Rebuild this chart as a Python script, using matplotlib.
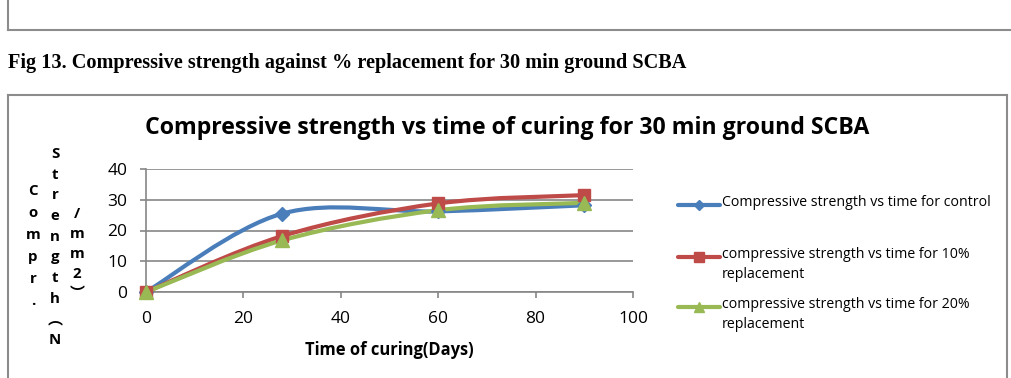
import matplotlib
matplotlib.use("Agg")
import matplotlib.pyplot as plt
import numpy as np
from matplotlib.path import Path
from matplotlib.patches import PathPatch
from matplotlib.lines import Line2D

# ---- data ----
days = [0, 28, 60, 90]
control = [0, 25.5, 26.2, 28.2]
rep10 = [0, 18.2, 28.8, 31.5]
rep20 = [0, 16.8, 26.6, 29.0]
series_labels = ["Compressive strength vs time for control",
                 "compressive strength vs time for 10%\nreplacement",
                 "compressive strength vs time for 20%\nreplacement"]
xticks = [0, 20, 40, 60, 80, 100]
yticks = [0, 10, 20, 30, 40]

W, H = 1012, 378
fig = plt.figure(figsize=(W / 100, H / 100), dpi=100)
fig.patch.set_facecolor("white")

def fx(px):
    return px / W

def fy(py):
    return 1 - py / H

BOX = "#8c8c8c"
# previous figure's box (clipped)
fig.add_artist(Line2D([fx(8), fx(8)], [fy(0), fy(30)], color=BOX, lw=1.5))
fig.add_artist(Line2D([fx(8), fx(1012)], [fy(30), fy(30)], color=BOX, lw=1.5))
# chart box
fig.add_artist(Line2D([fx(8), fx(8)], [fy(95), fy(378)], color=BOX, lw=1.5))
fig.add_artist(Line2D([fx(8), fx(1007)], [fy(95), fy(95)], color=BOX, lw=1.5))
fig.add_artist(Line2D([fx(1007), fx(1007)], [fy(95), fy(378)], color=BOX, lw=1.5))

# caption
fig.text(fx(8), fy(63), "Fig 13. Compressive strength against % replacement for 30 min ground SCBA",
         family="Liberation Serif", weight="bold", fontsize=14.6, ha="left", va="center")

# title
fig.text(fx(507), fy(128), "Compressive strength vs time of curing for 30 min ground SCBA",
         family="Open Sans", weight="bold", fontsize=16.7, ha="center", va="center")

ax = fig.add_axes([fx(146), fy(292), fx(633) - fx(146), fy(169) - fy(292)])
ax.set_xlim(0, 100)
ax.set_ylim(0, 40)
ax.set_xticks(xticks)
ax.set_yticks(yticks)
GRID = "#868686"
ax.grid(axis="y", color=GRID, lw=1.2)
ax.set_axisbelow(True)
for s in ["top", "right"]:
    ax.spines[s].set_visible(False)
for s in ["left", "bottom"]:
    ax.spines[s].set_color(GRID)
    ax.spines[s].set_linewidth(1.2)
ax.tick_params(axis="both", direction="out", length=4.5, color=GRID, width=1.2,
               labelsize=12.5, pad=9)
for lab in ax.get_xticklabels() + ax.get_yticklabels():
    lab.set_family("Open Sans")
fig.text(fx(389), fy(350), "Time of curing(Days)", family="Open Sans", weight="bold",
         fontsize=11.9, ha="center", va="center")

def smooth_path(xs, ys):
    pts = np.column_stack([xs, ys]).astype(float)
    n = len(pts)
    verts = [pts[0]]
    codes = [Path.MOVETO]
    for i in range(n - 1):
        p0 = pts[i - 1] if i > 0 else pts[i]
        p1 = pts[i]
        p2 = pts[i + 1]
        p3 = pts[i + 2] if i + 2 < n else pts[i + 1]
        c1 = p1 + (p2 - p0) / 6.0
        c2 = p2 - (p3 - p1) / 6.0
        verts += [c1, c2, p2]
        codes += [Path.CURVE4] * 3
    return Path(verts, codes)

colors = ["#4A7EBB", "#BE4B48", "#98B954"]
markers = ["D", "s", "^"]
msizes = [7.5, 9, 10.5]
leg_msizes = [5, 6.5, 7]
data = [control, rep10, rep20]
for ys, c, m, ms in zip(data, colors, markers, msizes):
    patch = PathPatch(smooth_path(days, ys), facecolor="none", edgecolor=c, lw=3,
                      capstyle="round", joinstyle="round", zorder=3, clip_on=False)
    ax.add_patch(patch)
    ax.plot(days, ys, linestyle="none", marker=m, color=c, markersize=ms, zorder=4, clip_on=False)

# legend (Excel layout: handle at first text line)
leg_y = [205, 257, 307]
for yy, c, m, lms, lab in zip(leg_y, colors, markers, leg_msizes, series_labels):
    fig.add_artist(Line2D([fx(678), fx(720)], [fy(yy), fy(yy)], color=c, lw=3,
                          solid_capstyle="round"))
    fig.add_artist(Line2D([fx(699)], [fy(yy)], color=c, marker=m, markersize=lms,
                          linestyle="none"))
    fig.text(fx(722), fy(yy - 10), lab, family="Open Sans", fontsize=10.2,
             ha="left", va="top", linespacing=1.42)

# stacked y-label (Excel vertical text)
lab_font = ["Open Sans", "Noto Sans CJK SC", "DejaVu Sans"]
cols = [
    (33, 191, 22, ["C", "o", "m", "p", "r", "."]),
    (55, 154, 20.7, ["S", "t", "r", "e", "n", "g", "t", "h", "\ufe35", "N"]),
    (77, 214, 20, ["/", "m", "m", "2", "\ufe36"]),
]
for x0, y0, dy, chars in cols:
    for k, ch in enumerate(chars):
        fig.text(fx(x0), fy(y0 + k * dy), ch, family=lab_font, weight="bold",
                 fontsize=10.8, ha="center", va="center")

fig.savefig("out.png", dpi=100)
